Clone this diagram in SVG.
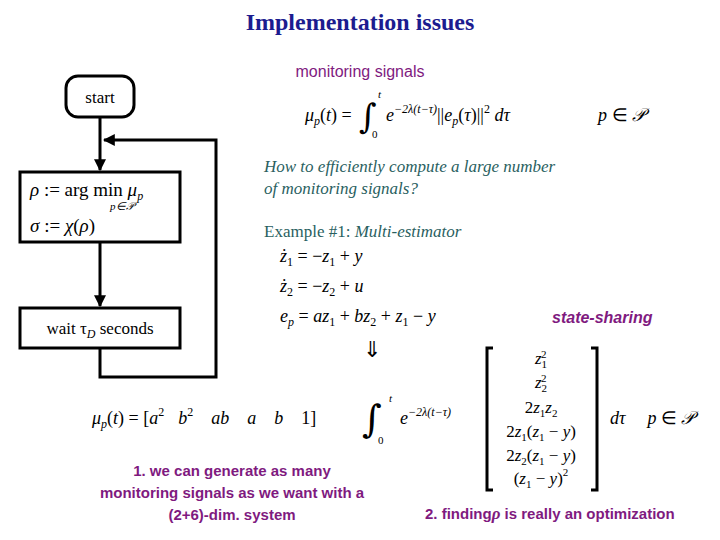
<svg xmlns="http://www.w3.org/2000/svg" width="720" height="540" viewBox="0 0 720 540">
<style>
.box{fill:#fff;stroke:#000;stroke-width:3}
.ln{fill:none;stroke:#000;stroke-width:3}
.m{font-family:"Liberation Serif",serif;fill:#000}
.mi{font-family:"Liberation Serif",serif;font-style:italic;fill:#000}
.int{font-family:"DejaVu Serif",serif;fill:#000}
.pu{font-family:"Liberation Sans",sans-serif;font-size:15px;font-weight:bold;fill:#7f1a7f}
.t{font-family:"Liberation Serif",serif;font-size:17px;fill:#000}
</style>
<defs><marker id="ah" viewBox="0 0 10 10" refX="9" refY="5" markerWidth="4" markerHeight="4" orient="auto"><path d="M0,0L10,5L0,10z" fill="#000"/></marker></defs>
<rect width="720" height="540" fill="#fff"/>
<text x="360" y="30" text-anchor="middle" font-family="Liberation Serif,serif" font-size="24" font-weight="bold" fill="#1c1c8f">Implementation issues</text>
<text x="360" y="77" text-anchor="middle" font-family="Liberation Sans,sans-serif" font-size="16" fill="#7f1a7f">monitoring signals</text>
<g id="connectors">
<path class="ln" d="M100,117V170" marker-end="url(#ah)"/>
<path class="ln" d="M100,242V306" marker-end="url(#ah)"/>
<path class="ln" d="M100,348V377H216V140H104" marker-end="url(#ah)"/>
</g>
<g id="start"><rect class="box" x="66" y="76" width="68" height="41" rx="12"/><text class="t" x="100" y="103" text-anchor="middle">start</text></g>
<g id="select"><rect class="box" x="20" y="172" width="160" height="70"/>
<text class="m" x="30" y="196" font-size="19"><tspan font-style="italic">ρ</tspan> := arg min <tspan font-style="italic">μ</tspan><tspan font-size="12" font-style="italic" dy="4">p</tspan></text>
<text class="mi" x="110" y="210" font-size="11">p∈𝒫</text>
<text class="m" x="30" y="232" font-size="19"><tspan font-style="italic">σ</tspan> := <tspan font-style="italic">χ</tspan>(<tspan font-style="italic">ρ</tspan>)</text></g>
<g id="wait"><rect class="box" x="20" y="308" width="160" height="40"/><text class="t" x="100" y="334" text-anchor="middle">wait τ<tspan font-size="12" font-style="italic" dy="4">D</tspan><tspan dy="-4"> seconds</tspan></text></g>
<g id="eq1">
<text class="mi" x="305" y="121" font-size="18">μ<tspan font-size="12" dy="4">p</tspan><tspan dy="-4" font-style="normal">(</tspan>t<tspan font-style="normal">) =</tspan></text>
<text class="int" x="359" y="128" font-size="34">∫</text>
<text class="mi" x="378" y="98" font-size="11">t</text><text class="m" x="372" y="138" font-size="11">0</text>
<text class="mi" x="386" y="121" font-size="18">e<tspan font-size="12" dy="-8">−2λ(t−τ)</tspan><tspan dy="8" font-style="normal">||</tspan>e<tspan font-size="12" dy="4">p</tspan><tspan dy="-4" font-style="normal">(</tspan>τ<tspan font-style="normal">)||</tspan><tspan font-size="12" dy="-8" font-style="normal">2</tspan><tspan dy="8"> dτ</tspan></text>
<text class="mi" x="598" y="121" font-size="18">p <tspan font-style="normal">∈</tspan> 𝒫</text>
</g>
<text x="264" y="172" font-family="Liberation Serif,serif" font-size="17" font-style="italic" fill="#2a5f5f">How to efficiently compute a large number</text>
<text x="264" y="194" font-family="Liberation Serif,serif" font-size="17" font-style="italic" fill="#2a5f5f">of monitoring signals?</text>
<text x="264" y="237" font-family="Liberation Serif,serif" font-size="17" fill="#2a5f5f">Example #1: <tspan font-style="italic">Multi-estimator</tspan></text>
<g font-size="18">
<text class="mi" x="280" y="262">ż<tspan font-size="12" dy="4" font-style="normal">1</tspan><tspan dy="-4" font-style="normal"> = −</tspan>z<tspan font-size="12" dy="4" font-style="normal">1</tspan><tspan dy="-4" font-style="normal"> + </tspan>y</text>
<text class="mi" x="280" y="292">ż<tspan font-size="12" dy="4" font-style="normal">2</tspan><tspan dy="-4" font-style="normal"> = −</tspan>z<tspan font-size="12" dy="4" font-style="normal">2</tspan><tspan dy="-4" font-style="normal"> + </tspan>u</text>
<text class="mi" x="280" y="322">e<tspan font-size="12" dy="4">p</tspan><tspan dy="-4" font-style="normal"> = </tspan>az<tspan font-size="12" dy="4" font-style="normal">1</tspan><tspan dy="-4" font-style="normal"> + </tspan>bz<tspan font-size="12" dy="4" font-style="normal">2</tspan><tspan dy="-4" font-style="normal"> + </tspan>z<tspan font-size="12" dy="4" font-style="normal">1</tspan><tspan dy="-4" font-style="normal"> − </tspan>y</text>
</g>
<text x="552" y="323" font-family="Liberation Sans,sans-serif" font-size="16" font-weight="bold" font-style="italic" fill="#7f1a7f">state-sharing</text>
<text class="m" x="372" y="357" text-anchor="middle" font-size="22">⇓</text>
<g id="eq2">
<text class="mi" x="92" y="424" font-size="18">μ<tspan font-size="12" dy="4">p</tspan><tspan dy="-4" font-style="normal">(</tspan>t<tspan font-style="normal">) = [</tspan>a<tspan font-size="12" dy="-8" font-style="normal">2</tspan><tspan dx="14" dy="8">b</tspan><tspan font-size="12" dy="-8" font-style="normal">2</tspan><tspan dx="18" dy="8">ab</tspan><tspan dx="18">a</tspan><tspan dx="18">b</tspan><tspan dx="18" font-style="normal">1]</tspan></text>
<text class="int" x="362" y="432" font-size="38">∫</text>
<text class="mi" x="389" y="402" font-size="11">t</text><text class="m" x="378" y="444" font-size="11">0</text>
<text class="mi" x="400" y="424" font-size="18">e<tspan font-size="12" dy="-8">−2λ(t−τ)</tspan></text>
<path class="ln" stroke-width="2" d="M493,348H487V490H493M591,348H597V490H591"/>
<g class="mi" text-anchor="middle" font-size="17">
<text x="541" y="364">z<tspan font-size="11" dy="4" font-style="normal">1</tspan><tspan font-size="11" dx="-6" dy="-10" font-style="normal">2</tspan></text>
<text x="541" y="388">z<tspan font-size="11" dy="4" font-style="normal">2</tspan><tspan font-size="11" dx="-6" dy="-10" font-style="normal">2</tspan></text>
<text x="541" y="413"><tspan font-style="normal">2</tspan>z<tspan font-size="11" dy="4" font-style="normal">1</tspan><tspan dy="-4">z</tspan><tspan font-size="11" dy="4" font-style="normal">2</tspan></text>
<text x="541" y="437"><tspan font-style="normal">2</tspan>z<tspan font-size="11" dy="4" font-style="normal">1</tspan><tspan dy="-4" font-style="normal">(</tspan>z<tspan font-size="11" dy="4" font-style="normal">1</tspan><tspan dy="-4" font-style="normal"> − </tspan>y<tspan font-style="normal">)</tspan></text>
<text x="541" y="461"><tspan font-style="normal">2</tspan>z<tspan font-size="11" dy="4" font-style="normal">2</tspan><tspan dy="-4" font-style="normal">(</tspan>z<tspan font-size="11" dy="4" font-style="normal">1</tspan><tspan dy="-4" font-style="normal"> − </tspan>y<tspan font-style="normal">)</tspan></text>
<text x="541" y="484"><tspan font-style="normal">(</tspan>z<tspan font-size="11" dy="4" font-style="normal">1</tspan><tspan dy="-4" font-style="normal"> − </tspan>y<tspan font-style="normal">)</tspan><tspan font-size="11" dy="-8" font-style="normal">2</tspan></text>
</g>
<text class="mi" x="610" y="424" font-size="18">dτ<tspan dx="22">p</tspan><tspan font-style="normal"> ∈ </tspan>𝒫</text>
</g>
<g class="pu" text-anchor="middle">
<text x="232" y="476">1. we can generate as many</text>
<text x="232" y="498">monitoring signals as we want with a</text>
<text x="232" y="520">(2+6)-dim. system</text>
</g>
<text class="pu" x="425" y="519">2. finding<tspan font-family="Liberation Serif,serif" font-style="italic" font-size="17">ρ</tspan> is really an optimization</text>
</svg>
